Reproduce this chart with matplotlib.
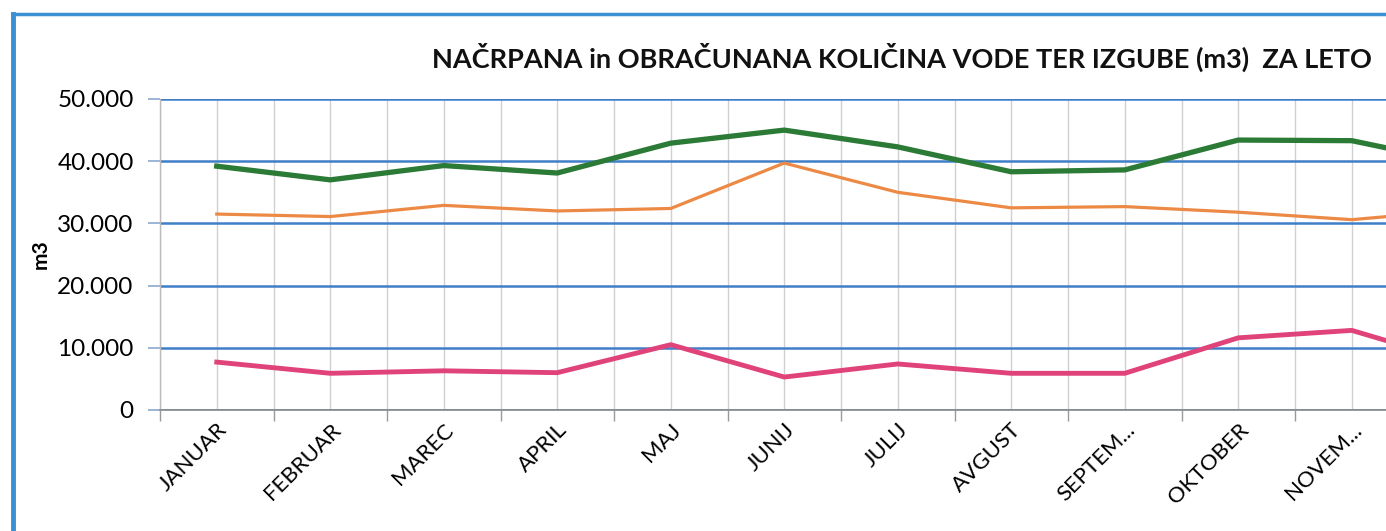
import matplotlib
matplotlib.use("Agg")
import matplotlib.pyplot as plt
from matplotlib.lines import Line2D
import numpy as np

months = ["JANUAR", "FEBRUAR", "MAREC", "APRIL", "MAJ", "JUNIJ", "JULIJ",
          "AVGUST", "SEPTEM...", "OKTOBER", "NOVEM...", "DECEMBER"]
nacrpana = [39200, 37000, 39300, 38100, 42900, 45000, 42300, 38300, 38600, 43400, 43300, 39500]
obracunana = [31500, 31100, 32900, 32000, 32400, 39700, 35000, 32500, 32700, 31800, 30600, 32200]
izgube = [7700, 5900, 6300, 6000, 10500, 5300, 7400, 5900, 5900, 11600, 12800, 7400]
yticks = [0, 10000, 20000, 30000, 40000, 50000]
ytick_labels = ["0", "10.000", "20.000", "30.000", "40.000", "50.000"]
title = "NAČRPANA in OBRAČUNANA KOLIČINA VODE TER IZGUBE (m3)  ZA LETO"

plt.rcParams['font.family'] = ['Lato', 'DejaVu Sans']

W, H = 1386, 531
fig = plt.figure(figsize=(W / 100, H / 100), dpi=100)
fig.patch.set_facecolor("white")

left_px, bottom_px, top_px, cat_px = 160, 410, 99, 113.5
n = len(months)
ax = fig.add_axes([left_px / W, 1 - bottom_px / H, n * cat_px / W, (bottom_px - top_px) / H])

x = np.arange(n)
ax.plot(x, nacrpana, color="#2b7a36", lw=3.8, solid_joinstyle="round", zorder=4)
ax.plot(x, obracunana, color="#ec8a45", lw=2.3, solid_joinstyle="round", zorder=4)
ax.plot(x, izgube, color="#e0437a", lw=3.5, solid_joinstyle="round", zorder=4)

ax.set_xlim(-0.5, n - 0.5)
ax.set_ylim(0, 50000)

# y axis
ax.set_yticks(yticks)
ax.set_yticklabels(ytick_labels, fontsize=17.5)
ax.tick_params(axis="y", length=9, width=1.2, color="#8aa9cf", pad=10)
ax.yaxis.grid(True, color="#3f7fc8", lw=1.8)

# x axis: labels at centers, ticks at boundaries
ax.set_xticks(x)
ax.set_xticklabels(months, fontsize=16, rotation=45, ha="right", rotation_mode="anchor")
ax.get_xticklabels()[-1].set_visible(False)
ax.tick_params(axis="x", which="major", length=0, pad=7)
ax.set_xticks(np.arange(n + 1) - 0.5, minor=True)
ax.tick_params(axis="x", which="minor", length=8, width=1.0, color="#999999")
ax.xaxis.grid(True, which="both", color="#d0d0d0", lw=1.0)
ax.set_axisbelow(True)

for s in ["top", "right"]:
    ax.spines[s].set_visible(False)
ax.spines["left"].set_color("#bbbbbb")
ax.spines["left"].set_linewidth(1.0)
ax.spines["bottom"].set_color("#888888")
ax.spines["bottom"].set_linewidth(1.2)

ax.set_ylabel("m3", fontsize=15, fontweight="bold", labelpad=5)

fig.text(432 / W, 1 - 57 / H, title, fontsize=19.5, fontweight="bold",
         ha="left", va="center", color="#111111")

# outer chart border (blue), left and top visible
fig.add_artist(Line2D([13 / W, 13 / W], [1 - 14 / H, 0], color="#3b8fd3", lw=3.5))
fig.add_artist(Line2D([13 / W, 1], [1 - 14 / H, 1 - 14 / H], color="#3b8fd3", lw=2.5))

fig.savefig("out.png", dpi=100)
